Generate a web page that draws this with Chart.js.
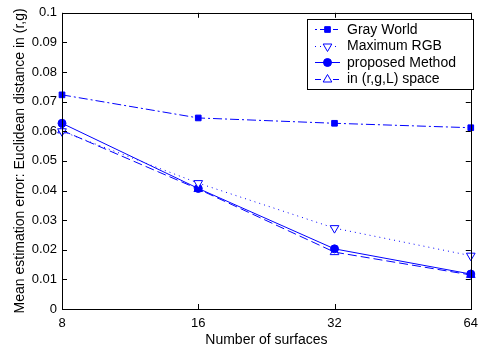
<!DOCTYPE html>
<html><head><meta charset="utf-8">
<script src="https://cdn.jsdelivr.net/npm/chart.js@4/dist/chart.umd.min.js"></script>
<style>html,body{margin:0;padding:0;background:#fff}#wrap{width:485px;height:350px}</style>
</head><body><div id="wrap"><canvas id="c" width="485" height="350"></canvas></div>
<script>
const categories = ['8', '16', '32', '64'];
const yTicks = [0, 0.01, 0.02, 0.03, 0.04, 0.05, 0.06, 0.07, 0.08, 0.09, 0.1];
const grayWorld = [0.0723, 0.0645, 0.0627, 0.0612];
const maximumRGB = [0.0600, 0.0425, 0.0273, 0.0180];
const proposedMethod = [0.0627, 0.0407, 0.0203, 0.0118];
const rgLSpace = [0.0603, 0.0405, 0.0192, 0.0115];
const seriesNames = ['Gray World', 'Maximum RGB', 'proposed Method', 'in (r,g,L) space'];

const BLUE = '#0000ff';
const FONT = 'Liberation Sans, Arial, Helvetica, sans-serif';

const styles = [
  {dash: [9, 3, 2, 3], legendDash: [2, 3, 5, 3], point: 'rect', radius: 4, fill: BLUE, rot: 0},
  {dash: [1, 4], legendDash: [1, 4], point: 'triangle', radius: 5, fill: '#ffffff', rot: 180},
  {dash: [], legendDash: [], point: 'circle', radius: 4, fill: BLUE, rot: 0},
  {dash: [9, 4], legendDash: [6, 3], point: 'triangle', radius: 5, fill: '#ffffff', rot: 0}
];
const seriesData = [grayWorld, maximumRGB, proposedMethod, rgLSpace];

const datasets = seriesData.map((d, i) => ({
  label: seriesNames[i],
  data: d,
  borderColor: BLUE,
  borderWidth: 1,
  borderDash: styles[i].dash,
  pointStyle: styles[i].point,
  pointRadius: styles[i].radius,
  pointRotation: styles[i].rot,
  pointBackgroundColor: styles[i].fill,
  pointBorderColor: BLUE,
  pointBorderWidth: 1,
  fill: false,
  tension: 0,
  clip: false
}));

const framePlugin = {
  id: 'frame',
  afterDraw(chart) {
    const {ctx, chartArea: a, scales} = chart;
    ctx.save();
    ctx.strokeStyle = '#000';
    ctx.lineWidth = 1;
    ctx.setLineDash([]);
    ctx.strokeRect(Math.round(a.left) + 0.5, Math.round(a.top) + 0.5, Math.round(a.right - a.left), Math.round(a.bottom - a.top));
    const tl = 5;
    ctx.beginPath();
    yTicks.forEach(v => {
      const y = Math.round(scales.y.getPixelForValue(v)) + 0.5;
      ctx.moveTo(a.left, y); ctx.lineTo(a.left + tl, y);
      ctx.moveTo(a.right, y); ctx.lineTo(a.right - tl, y);
    });
    categories.forEach((c, i) => {
      const x = Math.round(scales.x.getPixelForValue(i)) + 0.5;
      ctx.moveTo(x, a.bottom); ctx.lineTo(x, a.bottom - tl);
      ctx.moveTo(x, a.top); ctx.lineTo(x, a.top + tl);
    });
    ctx.stroke();

    // legend box
    const lx = 307, ly = 19, lw = 166, lh = 70;
    ctx.fillStyle = '#fff';
    ctx.fillRect(lx, ly, lw, lh);
    ctx.strokeStyle = '#000';
    ctx.strokeRect(lx + 0.5, ly + 0.5, lw, lh);
    ctx.font = '14px ' + FONT;
    ctx.textBaseline = 'middle';
    seriesNames.forEach((name, i) => {
      const cy = ly + 10 + i * 16.5;
      const s = styles[i];
      ctx.strokeStyle = BLUE;
      ctx.lineWidth = 1;
      ctx.setLineDash(s.legendDash);
      ctx.beginPath();
      ctx.moveTo(315, Math.round(cy) + 0.5); ctx.lineTo(340, Math.round(cy) + 0.5);
      ctx.stroke();
      ctx.setLineDash([]);
      ctx.fillStyle = s.fill;
      ctx.strokeStyle = BLUE;
      Chart.helpers.drawPoint(ctx, {pointStyle: s.point, radius: s.radius, rotation: s.rot, borderWidth: 1}, 327.5, Math.round(cy) + 0.5);
      ctx.fillStyle = '#000';
      ctx.fillText(name, 347, cy + 1);
    });
    ctx.restore();
  }
};

new Chart(document.getElementById('c'), {
  type: 'line',
  data: {labels: categories, datasets},
  options: {
    responsive: false,
    animation: false,
    devicePixelRatio: 1,
    layout: {padding: {top: 12, right: 12, left: 0, bottom: 0}},
    plugins: {legend: {display: false}, tooltip: {enabled: false}},
    scales: {
      x: {
        type: 'category',
        offset: false,
        grid: {display: false, drawTicks: false},
        border: {display: false},
        ticks: {color: '#000', font: {family: FONT, size: 13}, padding: 7, maxRotation: 0},
        title: {display: true, text: 'Number of surfaces', color: '#000', font: {family: FONT, size: 14}, padding: {top: 0, bottom: 1}},
        afterFit(s) { s.height = 41; }
      },
      y: {
        min: 0, max: 0.1,
        afterBuildTicks(s) { s.ticks = yTicks.map(v => ({value: v})); },
        grid: {display: false, drawTicks: false},
        border: {display: false},
        ticks: {color: '#000', font: {family: FONT, size: 13}, padding: 5,
          callback: v => String(Math.round(v * 100) / 100)},
        title: {display: true, text: 'Mean estimation error: Euclidean distance in (r,g)', color: '#000', font: {family: FONT, size: 14}, padding: {top: 12, bottom: 0}},
        afterFit(s) { s.width = 62; }
      }
    }
  },
  plugins: [framePlugin]
});
</script>
</body></html>
